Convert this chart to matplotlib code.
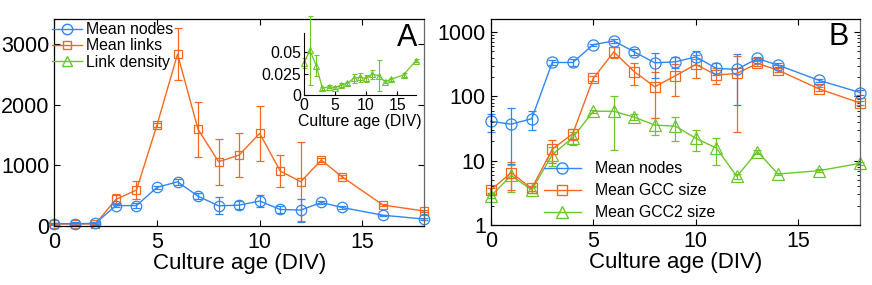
import matplotlib
matplotlib.use("Agg")
import matplotlib.pyplot as plt
from matplotlib.lines import Line2D
from matplotlib.ticker import LogLocator, FixedLocator, NullFormatter

plt.rcParams['font.family'] = ['Liberation Sans', 'DejaVu Sans']

# ---------------- data ----------------
div = [0, 1, 2, 3, 4, 5, 6, 7, 8, 9, 10, 11, 12, 13, 14, 16, 18]

mean_nodes = [41, 37, 45, 337, 337, 638, 730, 492, 333, 345, 412, 273, 263, 389, 307, 178, 115]
mean_nodes_err = [13, 28, 15, 30, 40, 20, 50, 50, 140, 65, 100, 60, 190, 25, 20, 10, 10]

mean_links = [33, 33, 33, 440, 594, 1668, 2840, 1596, 1062, 1172, 1530, 908, 732, 1090, 815, 347, 248]
mean_links_err = [10, 10, 10, 90, 150, 40, 430, 450, 380, 360, 450, 270, 650, 40, 30, 20, 20]

link_density = [0.0371, 0.052, 0.0344, 0.0078, 0.0098, 0.0086, 0.0117, 0.0137, 0.0195, 0.0207,
                0.0195, 0.0242, 0.0227, 0.0156, 0.0184, 0.0234, 0.0402]
link_density_err = [0.006, 0.040, 0.012, 0.002, 0.002, 0.002, 0.002, 0.002, 0.005, 0.005,
                    0.004, 0.005, 0.018, 0.002, 0.002, 0.002, 0.002]

gcc_size = [3.5, 6.5, 3.7, 15.1, 26.3, 191, 492, 242, 141, 210, 314, 215, 228, 326, 257, 131, 79]
gcc_size_err = [0.3, 3, 0.3, 6, 5, 15, 95, 90, 95, 110, 120, 60, 200, 30, 15, 8, 5]

gcc2_size = [2.8, 5.9, 3.5, 12.4, 22.9, 58.8, 58.8, 47.5, 35.8, 34.5, 22.3, 15.7, 5.7, 13.9, 6.2, 7.0, 9.1]
gcc2_size_err = [0.2, 2.6, 0.4, 4, 5.5, 3, 44, 5, 11, 14, 8, 7, 0.5, 1, 0.3, 0.3, 0.5]

x_ticks = [0, 5, 10, 15]
yA_ticks = [0, 1000, 2000, 3000]
yB_ticks = [1, 10, 100, 1000]
yB_labels = ['1', '10', '100', '1000']
inset_yticks = [0, 0.025, 0.05]
inset_ylabels = ['0', '0.025', '0.05']

BLUE = '#2f86f5'
ORANGE = '#f5691f'
GREEN = '#6cc62a'

TICK_FS = 15.5
LABEL_FS = 16
LEG_FS = 11.4

fig = plt.figure(figsize=(8.72, 2.85), dpi=100)

def style(ax, fs=TICK_FS, length=4, padx=4.5, pady=3.5):
    ax.tick_params(which='both', direction='in', top=True, right=True)
    ax.tick_params(axis='x', which='major', labelsize=fs, pad=padx, length=length, width=0.8)
    ax.tick_params(axis='y', which='major', labelsize=fs, pad=pady, length=length, width=0.8)
    ax.tick_params(which='minor', length=2, width=0.6)
    for s in ax.spines.values():
        s.set_linewidth(0.9)
    ax.spines['right'].set_color('#666666')

def eb(ax, y, e, color, marker, ms, lw=1.0, cap=3):
    ax.errorbar(div, y, yerr=e, color=color, marker=marker, ms=ms, mfc='none',
                mec=color, mew=0.9, lw=lw, elinewidth=0.9, capsize=cap, capthick=0.9,
                clip_on=False)

# ---------------- panel A ----------------
axA = fig.add_axes([54.3 / 872, 59 / 285, (424 - 54.3) / 872, (226 - 19) / 285])
eb(axA, mean_links, mean_links_err, ORANGE, 's', 6)
eb(axA, mean_nodes, mean_nodes_err, BLUE, 'o', 7.5)
axA.set_xlim(0, 18)
axA.set_ylim(0, 3420)
axA.xaxis.set_major_locator(FixedLocator(x_ticks))
axA.yaxis.set_major_locator(FixedLocator(yA_ticks))
style(axA)
axA.set_xlabel('Culture age (DIV)', fontsize=LABEL_FS, labelpad=0)
axA.text(0.954, 0.91, 'A', transform=axA.transAxes, fontsize=22, ha='center', va='center')

hA = [Line2D([], [], color=BLUE, marker='o', ms=7.5, mfc='none', lw=1.0),
      Line2D([], [], color=ORANGE, marker='s', ms=6, mfc='none', lw=1.0),
      Line2D([], [], color=GREEN, marker='^', ms=7.5, mfc='none', lw=1.0)]
axA.legend(hA, ['Mean nodes', 'Mean links', 'Link density'], loc='upper left',
           bbox_to_anchor=(-0.005, 0.985), frameon=False, fontsize=LEG_FS, handlelength=1.85,
           handletextpad=0.3, labelspacing=0.08, borderpad=0, borderaxespad=0)

# inset
axI = fig.add_axes([303.7 / 872, (285 - 95) / 285, (416 - 303.7) / 872, (95 - 33.3) / 285])
axI.errorbar(div, link_density, yerr=link_density_err, color=GREEN, marker='^', ms=5,
             mfc='none', mec=GREEN, mew=0.8, lw=0.9, elinewidth=0.8, capsize=1.8, capthick=0.8,
             clip_on=False)
axI.set_xlim(0, 18)
axI.set_ylim(0, 0.072)
axI.xaxis.set_major_locator(FixedLocator(x_ticks))
axI.set_yticks(inset_yticks)
axI.set_yticklabels(inset_ylabels)
axI.spines['top'].set_visible(False)
axI.spines['right'].set_visible(False)
axI.tick_params(direction='in', length=3, labelsize=LEG_FS, pad=2)
axI.set_xlabel('Culture age (DIV)', fontsize=LEG_FS, labelpad=1)
axI.patch.set_alpha(0)

# ---------------- panel B ----------------
axB = fig.add_axes([490.7 / 872, 60 / 285, (860 - 490.7) / 872, (225 - 19) / 285])
axB.set_yscale('log')
eb(axB, gcc2_size, gcc2_size_err, GREEN, '^', 9)
eb(axB, gcc_size, gcc_size_err, ORANGE, 's', 6.5)
eb(axB, mean_nodes, mean_nodes_err, BLUE, 'o', 8)
axB.set_xlim(0, 18)
axB.set_ylim(1, 1600)
axB.xaxis.set_major_locator(FixedLocator(x_ticks))
axB.yaxis.set_major_locator(FixedLocator(yB_ticks))
axB.set_yticklabels(yB_labels)
axB.yaxis.set_minor_locator(LogLocator(base=10, subs=range(2, 10)))
axB.yaxis.set_minor_formatter(NullFormatter())
style(axB)
axB.set_xlabel('Culture age (DIV)', fontsize=LABEL_FS, labelpad=0)
axB.text(0.943, 0.915, 'B', transform=axB.transAxes, fontsize=22, ha='center', va='center')

hB = [Line2D([], [], color=BLUE, marker='o', ms=8, mfc='none', lw=1.0),
      Line2D([], [], color=ORANGE, marker='s', ms=6.5, mfc='none', lw=1.0),
      Line2D([], [], color=GREEN, marker='^', ms=9, mfc='none', lw=1.0)]
axB.legend(hB, ['Mean nodes', 'Mean GCC size', 'Mean GCC2 size'], loc='upper left',
           bbox_to_anchor=(0.145, 0.31), frameon=False, fontsize=LEG_FS, handlelength=2.3,
           handletextpad=0.9, labelspacing=0.45, borderpad=0, borderaxespad=0)

fig.savefig('out.png', dpi=100)
